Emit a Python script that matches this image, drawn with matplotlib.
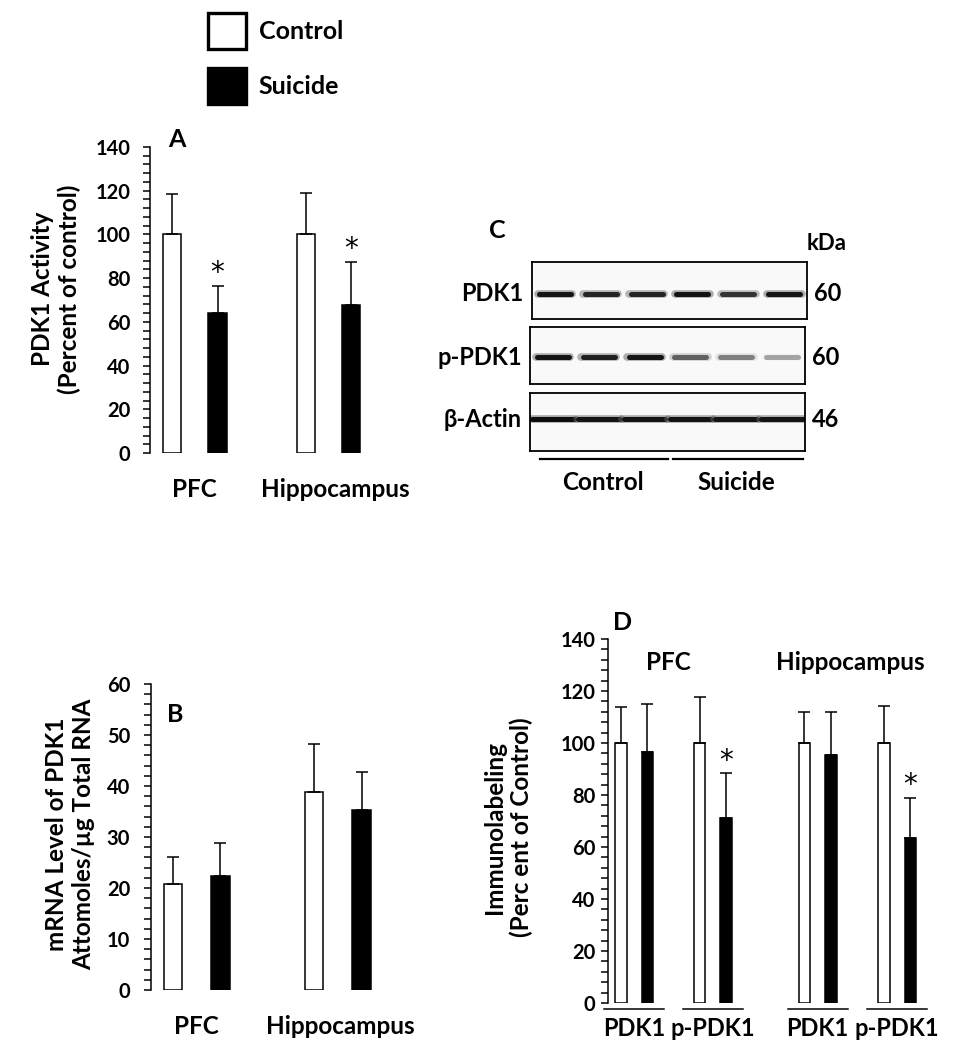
import matplotlib
matplotlib.use('Agg')
import matplotlib.pyplot as plt
from matplotlib.patches import Patch
from matplotlib.ticker import MultipleLocator
import numpy as np

plt.rcParams['font.family'] = ['Lato', 'DejaVu Sans']
plt.rcParams['font.weight'] = 'bold'

W, H = 966, 1050

regions = ['PFC', 'Hippocampus']
groups = ['Control', 'Suicide']

# A: PDK1 activity (% of control)
act_ctrl = [100, 100]
act_ctrl_err = [18.5, 19]
act_sui = [64, 67.5]
act_sui_err = [12.5, 20]
act_sig = [True, True]

# B: mRNA level (attomoles / ug total RNA)
mrna_ctrl = [20.8, 38.9]
mrna_ctrl_err = [5.3, 9.3]
mrna_sui = [22.4, 35.3]
mrna_sui_err = [6.4, 7.5]
mrna_sig = [False, False]

# D: immunolabeling (% of control)
proteins = ['PDK1', 'p-PDK1', 'PDK1', 'p-PDK1']
imm_ctrl = [100, 100, 100, 100]
imm_ctrl_err = [13.7, 17.6, 12, 14.3]
imm_sui = [96.7, 71, 95.2, 63.3]
imm_sui_err = [18.2, 17.4, 16.8, 15.7]
imm_sig = [False, True, False, True]

# C: western blot, band darkness per lane (3 control, 3 suicide)
blot_rows = ['PDK1', 'p-PDK1', 'β-Actin']
blot_kda = ['60', '60', '46']
band_pdk1 = [0.92, 0.86, 0.86, 0.93, 0.8, 0.92]
band_ppdk1 = [0.92, 0.88, 0.92, 0.62, 0.5, 0.36]
band_actin = [0.95, 0.92, 0.92, 0.92, 0.92, 0.92]

fig = plt.figure(figsize=(W / 100, H / 100), dpi=100)


def px_axes(left, top, right, bottom):
    return fig.add_axes([left / W, 1 - bottom / H, (right - left) / W, (bottom - top) / H])


def bar_panel(ax, xs, ctrl, ctrl_err, sui, sui_err, sig, off, width, ymax, minor, pad):
    xs = np.asarray(xs, dtype=float)
    ekw = dict(lw=1.1, capthick=1.1, ecolor='black')
    n = len(ctrl)
    ax.bar(xs - off, ctrl, width, color='white', edgecolor='black', lw=1.1,
           yerr=[np.zeros(n), ctrl_err], capsize=4, error_kw=ekw)
    ax.bar(xs + off, sui, width, color='black', edgecolor='black', lw=1.1,
           yerr=[np.zeros(n), sui_err], capsize=4, error_kw=ekw)
    for x, v, e, s in zip(xs + off, sui, sui_err, sig):
        if s:
            ax.annotate('*', (x, v + e), xytext=(0, 9), textcoords='offset points',
                        ha='center', va='center', fontsize=20, fontweight='normal',
                        family='DejaVu Sans')
    ax.set_ylim(0, ymax)
    ax.yaxis.set_major_locator(MultipleLocator(20 if ymax == 140 else 10))
    ax.yaxis.set_minor_locator(MultipleLocator(minor))
    ax.tick_params(axis='y', which='both', direction='out', length=5, width=1.1,
                   labelsize=14.5, pad=pad)
    for s in ['top', 'right', 'bottom']:
        ax.spines[s].set_visible(False)
    ax.spines['left'].set_linewidth(1.1)


# ---------- panel A ----------
axA = px_axes(150, 147, 380, 453)
bar_panel(axA, [0, 1], act_ctrl, act_ctrl_err, act_sui, act_sui_err, act_sig,
          0.17, 0.138, 140, 4, 9)
axA.set_xlim(-0.335, 1.385)
axA.set_xticks([0, 1.05])
axA.set_xticklabels(regions, fontsize=17.5)
axA.tick_params(axis='x', length=0, pad=18)
axA.text(0.117, 1.026, 'A', transform=axA.transAxes, fontsize=18, ha='center', va='center')
fig.text(56 / W, 1 - 289 / H, 'PDK1 Activity\n(Percent of control)', rotation=90,
         ha='center', va='center', multialignment='center', fontsize=17.5, linespacing=1.2)

# ---------- panel B ----------
axB = px_axes(151, 684, 390, 990)
bar_panel(axB, [0, 1], mrna_ctrl, mrna_ctrl_err, mrna_sui, mrna_sui_err, mrna_sig,
          0.168, 0.131, 60, 2, 10)
axB.set_xlim(-0.324, 1.37)
axB.set_xticks([0, 1.02])
axB.set_xticklabels(regions, fontsize=17.5)
axB.tick_params(axis='x', length=0, pad=18)
axB.text(0.10, 0.90, 'B', transform=axB.transAxes, fontsize=18, ha='center', va='center')
fig.text(70 / W, 1 - 834 / H, 'mRNA Level of PDK1\nAttomoles/µg Total RNA', rotation=90,
         ha='center', va='center', multialignment='center', fontsize=17.5, linespacing=1.2)

# ---------- panel D ----------
axD = px_axes(608, 639, 935, 1003)
xd = [0, 1, 2.33, 3.34]
bar_panel(axD, xd, imm_ctrl, imm_ctrl_err, imm_sui, imm_sui_err, imm_sig,
          0.168, 0.146, 140, 4, 4)
axD.set_xlim(-0.333, 3.82)
axD.set_xticks(xd)
axD.set_xticklabels(proteins, fontsize=17)
axD.tick_params(axis='x', length=0, pad=10)
for x in xd:
    axD.plot([x - 0.38, x + 0.38], [-0.017, -0.017], color='black', lw=1.1,
             transform=axD.get_xaxis_transform(), clip_on=False)
axD.text(0.44, 0.935, 'PFC', transform=axD.get_xaxis_transform(), fontsize=17.5,
         ha='center', va='center')
axD.text(2.75, 0.935, 'Hippocampus', transform=axD.get_xaxis_transform(), fontsize=17.5,
         ha='center', va='center')
axD.text(0.045, 1.015, 'D', transform=axD.transAxes, fontsize=18, ha='center', va='bottom')
fig.text(508 / W, 1 - 827 / H, 'Immunolabeling\n(Perc ent of Control)', rotation=90,
         ha='center', va='center', multialignment='center', fontsize=17.5, linespacing=1.2)

# ---------- panel C (blot) ----------
strips = [(532, 262, 807, 319, band_pdk1, 0.44, 0.76),
          (530, 327, 805, 384, band_ppdk1, 0.47, 0.76),
          (530, 393, 805, 451, band_actin, 0.55, 0.97)]
lanes = np.arange(1, 7)
for (l, t, r, b, dark, ypos, blen), name, kda in zip(strips, blot_rows, blot_kda):
    ax = px_axes(l, t, r, b)
    ax.set_facecolor('#f9f9f9')
    ax.set_xlim(0.5, 6.5)
    ax.set_ylim(0, 1)
    ax.set_xticks([])
    ax.set_yticks([])
    for s in ax.spines.values():
        s.set_linewidth(1.3)
    for x, d in zip(lanes, dark):
        g = 1 - d
        ax.plot([x - blen / 2, x + blen / 2], [ypos, ypos], color=str(min(1, g + 0.3)),
                lw=5.5, solid_capstyle='round', alpha=0.5)
        ax.plot([x - blen / 2 + 0.03, x + blen / 2 - 0.03], [ypos, ypos], color=str(g),
                lw=3.6, solid_capstyle='round')
    ax.text(-0.03, ypos, name, transform=ax.transAxes, ha='right', va='center', fontsize=17)
    ax.text(1.075, ypos, kda, transform=ax.transAxes, ha='center', va='center', fontsize=17)
    axC_last = ax

axC_last.plot([0.72, 3.52], [-0.13, -0.13], color='black', lw=1.6, clip_on=False)
axC_last.plot([3.63, 6.46], [-0.13, -0.13], color='black', lw=1.6, clip_on=False)
axC_last.text(2.1, -0.54, 'Control', ha='center', va='center', fontsize=17.5)
axC_last.text(5.0, -0.54, 'Suicide', ha='center', va='center', fontsize=17.5)
fig.text(497 / W, 1 - 230 / H, 'C', ha='center', va='center', fontsize=18)
fig.text(827 / W, 1 - 243 / H, 'kDa', ha='center', va='center', fontsize=16)

# ---------- legend ----------
handles = [Patch(facecolor='white', edgecolor='black', lw=2.4),
           Patch(facecolor='black', edgecolor='black', lw=2.4)]
fig.legend(handles, groups, loc='upper left', bbox_to_anchor=(208 / W, 1 - 13 / H),
           frameon=False, fontsize=18, handlelength=1.52, handleheight=1.84,
           handletextpad=0.5, labelspacing=0.76, borderpad=0, borderaxespad=0)

fig.savefig('out.png', dpi=100)
